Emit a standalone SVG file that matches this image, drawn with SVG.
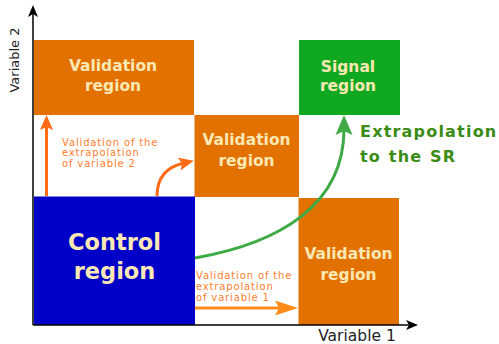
<svg xmlns="http://www.w3.org/2000/svg" width="499" height="344" viewBox="0 0 499 344">
  <style>
    .vr { fill: #E37100; }
    .cr { fill: #0000C8; }
    .sr { fill: #10A820; }
    .box-label { font-family: "DejaVu Sans", "Liberation Sans", sans-serif; font-weight: bold; font-size: 15.5px; fill: #FAE8B4; text-anchor: middle; }
    .big-label { font-size: 22.5px; }
    .note { font-family: "DejaVu Sans", "Liberation Sans", sans-serif; font-size: 10px; letter-spacing: 0.85px; fill: #FF7E2E; }
    .sr-note { font-family: "DejaVu Sans", "Liberation Sans", sans-serif; font-weight: bold; font-size: 16px; letter-spacing: 1.2px; fill: #3A8C14; }
    .axis-label { font-family: "DejaVu Sans", "Liberation Sans", sans-serif; fill: #222; text-anchor: middle; }
    .axis { stroke: #000; stroke-width: 1.5; fill: none; }
    .arrow { fill: none; stroke-width: 3; }
  </style>
  <defs>
    <marker id="axis-head" markerUnits="userSpaceOnUse" viewBox="0 -6 13 12" markerWidth="13" markerHeight="12" refX="3" refY="0" orient="auto">
      <path d="M12,0 L0,-5 L3,0 L0,5 Z" fill="#000"/>
    </marker>
    <marker id="head-red" markerUnits="userSpaceOnUse" viewBox="0 -7 16 14" markerWidth="16" markerHeight="14" refX="5" refY="0" orient="auto">
      <path d="M15,0 L0,-6.5 L3,0 L0,6.5 Z" fill="#FF6A14"/>
    </marker>
    <marker id="head-orange" markerUnits="userSpaceOnUse" viewBox="0 -8 24 16" markerWidth="24" markerHeight="16" refX="6" refY="0" orient="auto">
      <path d="M23,0 L0,-7.5 L4,0 L0,7.5 Z" fill="#FF8C1A"/>
    </marker>
    <marker id="head-green" markerUnits="userSpaceOnUse" viewBox="0 -9 21 18" markerWidth="21" markerHeight="18" refX="6" refY="0" orient="auto">
      <path d="M20,0 L0,-8.5 L4,0 L0,8.5 Z" fill="#3DAA45"/>
    </marker>
  </defs>

  <!-- regions -->
  <g id="validation-top">
    <rect class="vr" x="34" y="40" width="160" height="75"/>
    <text class="box-label" x="113" y="71">Validation</text>
    <text class="box-label" x="113" y="91">region</text>
  </g>
  <g id="signal">
    <rect class="sr" x="299" y="40" width="101" height="75"/>
    <text class="box-label" x="348" y="72">Signal</text>
    <text class="box-label" x="348" y="91">region</text>
  </g>
  <g id="validation-middle">
    <rect class="vr" x="194.5" y="115" width="104.5" height="82"/>
    <text class="box-label" x="246.5" y="145">Validation</text>
    <text class="box-label" x="246.5" y="166">region</text>
  </g>
  <g id="control">
    <rect class="cr" x="34" y="196.5" width="161" height="128.5"/>
    <text class="box-label big-label" x="114.5" y="250">Control</text>
    <text class="box-label big-label" x="114.5" y="279">region</text>
  </g>
  <g id="validation-right">
    <rect class="vr" x="298.5" y="198" width="100.5" height="127"/>
    <text class="box-label" x="348.5" y="259">Validation</text>
    <text class="box-label" x="348.5" y="280">region</text>
  </g>

  <!-- axes -->
  <g id="axes">
    <line class="axis" x1="33" y1="325" x2="33" y2="14" marker-end="url(#axis-head)"/>
    <line class="axis" x1="33" y1="325" x2="409" y2="325" marker-end="url(#axis-head)"/>
    <text class="axis-label" font-size="13" transform="translate(18.5,60) rotate(-90)">Variable 2</text>
    <text class="axis-label" font-size="15.5" x="357" y="341">Variable 1</text>
  </g>

  <!-- connectors -->
  <g id="connectors">
    <path class="arrow" stroke="#FF6A14" d="M46.5,196 L46.5,125" marker-end="url(#head-red)"/>
    <path class="arrow" stroke="#FF6A14" d="M157,196 C157,178 166,167 184,163" marker-end="url(#head-red)"/>
    <path class="arrow" stroke="#FF8C1A" d="M195,308 L281,308" marker-end="url(#head-orange)"/>
    <path class="arrow" stroke="#3DAA45" stroke-width="3.5" d="M195,258 C280,243 344,205 344,129" marker-end="url(#head-green)"/>
  </g>

  <!-- connector notes -->
  <g id="note-variable-2">
    <text class="note" x="62" y="145.5">Validation of the</text>
    <text class="note" x="62" y="156">extrapolation</text>
    <text class="note" x="62" y="166.5">of variable 2</text>
  </g>
  <g id="note-variable-1">
    <text class="note" x="196" y="279">Validation of the</text>
    <text class="note" x="196" y="290">extrapolation</text>
    <text class="note" x="196" y="300.5">of variable 1</text>
  </g>
  <g id="note-signal">
    <text class="sr-note" x="360" y="137">Extrapolation</text>
    <text class="sr-note" x="360" y="162" word-spacing="1">to the SR</text>
  </g>
</svg>
